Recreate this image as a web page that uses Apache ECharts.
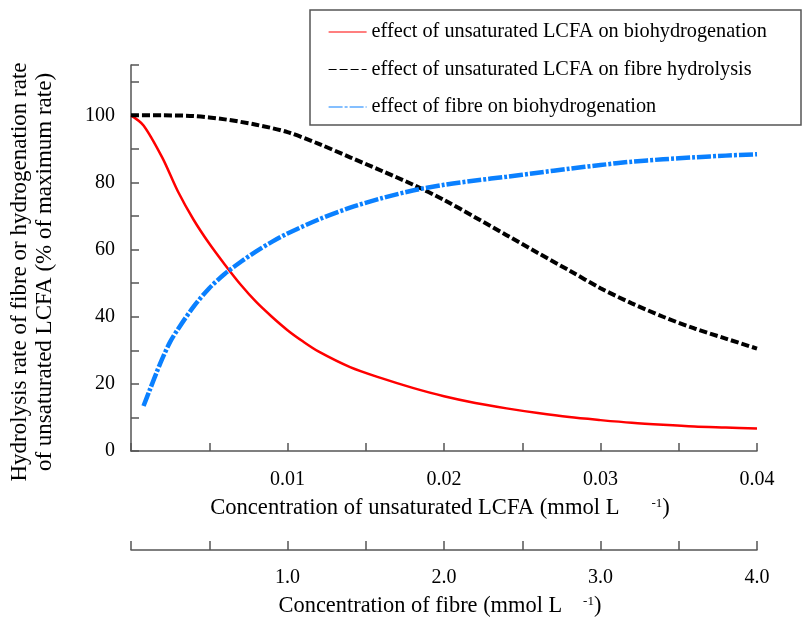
<!DOCTYPE html>
<html>
<head>
<meta charset="utf-8">
<script src="https://cdn.jsdelivr.net/npm/echarts@6/dist/echarts.min.js"></script>
<style>
  html, body { margin: 0; padding: 0; background: #fff; }
  #main { width: 802px; height: 617px; }
</style>
</head>
<body>
<div id="main"></div>
<script>
// LCFA concentration (mmol/L) and the two LCFA curves
var lcfaRed = [0, 0.0008, 0.002, 0.003, 0.004, 0.005, 0.006, 0.007, 0.008, 0.009, 0.010, 0.011, 0.012, 0.014, 0.016, 0.018, 0.020, 0.022, 0.024, 0.026, 0.028, 0.030, 0.032, 0.034, 0.036, 0.038, 0.040];
var redValues = [100, 97, 87.4, 77.3, 68.9, 61.8, 55.5, 49.6, 44.4, 40, 36, 32.6, 29.6, 25, 21.7, 18.8, 16.3, 14.3, 12.7, 11.3, 10.1, 9.2, 8.4, 7.8, 7.3, 7.0, 6.7];

var lcfaBlack = [0, 0.002, 0.004, 0.006, 0.008, 0.010, 0.012, 0.014, 0.016, 0.018, 0.020, 0.022, 0.024, 0.026, 0.028, 0.030, 0.032, 0.034, 0.036, 0.038, 0.040];
var blackValues = [100, 100, 99.8, 98.8, 97.2, 95, 91.5, 87.5, 83.5, 79.4, 74.8, 69.6, 64.3, 59, 53.8, 48.5, 44, 40, 36.5, 33.5, 30.5];

// fibre concentration (mmol/L)
var fibre = [0.08, 0.12, 0.16, 0.2, 0.25, 0.3, 0.4, 0.5, 0.6, 0.7, 0.8, 0.9, 1.0, 1.2, 1.4, 1.6, 1.8, 2.0, 2.2, 2.4, 2.6, 2.8, 3.0, 3.2, 3.4, 3.6, 3.8, 4.0];
var blueValues = [13.4, 18.2, 23, 27.5, 32.5, 36.3, 43, 48.5, 52.8, 56.3, 59.5, 62.3, 64.8, 69, 72.5, 75.3, 77.6, 79.3, 80.6, 81.7, 82.9, 84.1, 85.2, 86.2, 86.9, 87.5, 88, 88.4];

var seriesNames = ['effect of unsaturated LCFA on biohydrogenation', 'effect of unsaturated LCFA on fibre hydrolysis', 'effect of fibre on biohydrogenation'];

var FONT = 'Liberation Serif';
var AXIS_COLOR = '#555';

function pairs(xs, ys) {
  return xs.map(function (x, i) { return [x, ys[i]]; });
}

var chart = echarts.init(document.getElementById('main'));

var option = {
  backgroundColor: '#fff',
  animation: false,
  textStyle: { fontFamily: FONT, color: '#000' },
  grid: { left: 131, right: 45, top: 65, bottom: 166, outerBoundsMode: 'none' },
  graphic: [{
    type: 'rect',
    z: 3,
    shape: { x: 310, y: 10, width: 491, height: 115 },
    style: { fill: '#fff', stroke: AXIS_COLOR, lineWidth: 1.5 }
  }],
  legend: {
    orient: 'vertical',
    left: 323,
    top: 17,
    itemWidth: 38,
    itemHeight: 14,
    itemGap: 17.5,
    z: 5,
    lineStyle: { width: 1.2 },
    itemStyle: { color: 'transparent', borderColor: 'transparent', borderWidth: 0 },
    textStyle: { fontFamily: FONT, fontSize: 20.3, color: '#000' },
    data: seriesNames
  },
  xAxis: [{
    type: 'value',
    min: 0, max: 0.04, interval: 0.005,
    position: 'bottom',
    name: '{n|Concentration of unsaturated LCFA (mmol L}{s|-1}{n|)}',
    nameLocation: 'middle',
    nameGap: 46,
    nameTextStyle: {
      padding: [0, 8, 0, 0],
      rich: {
        n: { fontFamily: FONT, fontSize: 22.6, color: '#000', lineHeight: 22 },
        s: { fontFamily: FONT, fontSize: 13, color: '#000', verticalAlign: 'top', padding: [0, 0, 0, 32] }
      }
    },
    axisLine: { lineStyle: { color: AXIS_COLOR, width: 1.5 } },
    axisTick: { inside: true, length: 8, lineStyle: { color: AXIS_COLOR, width: 1.5 } },
    axisLabel: {
      margin: 19,
      fontFamily: FONT, fontSize: 20, color: '#000',
      formatter: function (v) {
        var k = Math.round(v * 1000);
        return (k > 0 && k % 10 === 0) ? v.toFixed(2) : '';
      }
    },
    splitLine: { show: false }
  }, {
    type: 'value',
    min: 0, max: 4, interval: 0.5,
    position: 'bottom',
    offset: 99,
    name: '{n|Concentration of fibre (mmol L}{s|-1}{n|)}',
    nameLocation: 'middle',
    nameGap: 45,
    nameTextStyle: {
      padding: [0, 8, 0, 0],
      rich: {
        n: { fontFamily: FONT, fontSize: 22.4, color: '#000', lineHeight: 22 },
        s: { fontFamily: FONT, fontSize: 13, color: '#000', verticalAlign: 'top', padding: [0, 0, 0, 21] }
      }
    },
    axisLine: { onZero: false, lineStyle: { color: AXIS_COLOR, width: 1.5 } },
    axisTick: { inside: true, length: 9, lineStyle: { color: AXIS_COLOR, width: 1.5 } },
    axisLabel: {
      margin: 18,
      fontFamily: FONT, fontSize: 20, color: '#000',
      formatter: function (v) {
        var k = Math.round(v * 10);
        return (k > 0 && k % 10 === 0) ? v.toFixed(1) : '';
      }
    },
    splitLine: { show: false }
  }],
  yAxis: {
    type: 'value',
    min: 0, max: 115, interval: 10,
    name: 'Hydrolysis rate of fibre or hydrogenation rate\nof unsaturated LCFA (% of maximum rate)',
    nameLocation: 'middle',
    nameRotate: 90,
    nameGap: 74,
    nameTextStyle: { fontFamily: FONT, fontSize: 23, color: '#000', lineHeight: 25, padding: [0, 28, 0, 0] },
    axisLine: { lineStyle: { color: AXIS_COLOR, width: 1.5 } },
    axisTick: { inside: true, length: 8, lineStyle: { color: AXIS_COLOR, width: 1.5 } },
    axisLabel: {
      margin: 16,
      fontFamily: FONT, fontSize: 20, color: '#000',
      formatter: function (v) { return v % 20 === 0 ? String(v) : ''; }
    },
    splitLine: { show: false }
  },
  series: [{
    name: seriesNames[0],
    type: 'line',
    xAxisIndex: 0,
    smooth: 0.3,
    symbol: 'none',
    color: '#ff0000',
    lineStyle: { color: '#ff0000', width: 2.5 },
    data: pairs(lcfaRed, redValues)
  }, {
    name: seriesNames[1],
    type: 'line',
    xAxisIndex: 0,
    smooth: 0.3,
    symbol: 'none',
    color: '#000',
    lineStyle: { color: '#000', width: 4, type: [8, 3] },
    data: pairs(lcfaBlack, blackValues)
  }, {
    name: seriesNames[2],
    type: 'line',
    xAxisIndex: 1,
    smooth: 0.3,
    symbol: 'none',
    color: '#0a80ff',
    lineStyle: { color: '#0a80ff', width: 4.5, type: [14, 2, 3, 2] },
    data: pairs(fibre, blueValues)
  }]
};

chart.setOption(option);
</script>
</body>
</html>
